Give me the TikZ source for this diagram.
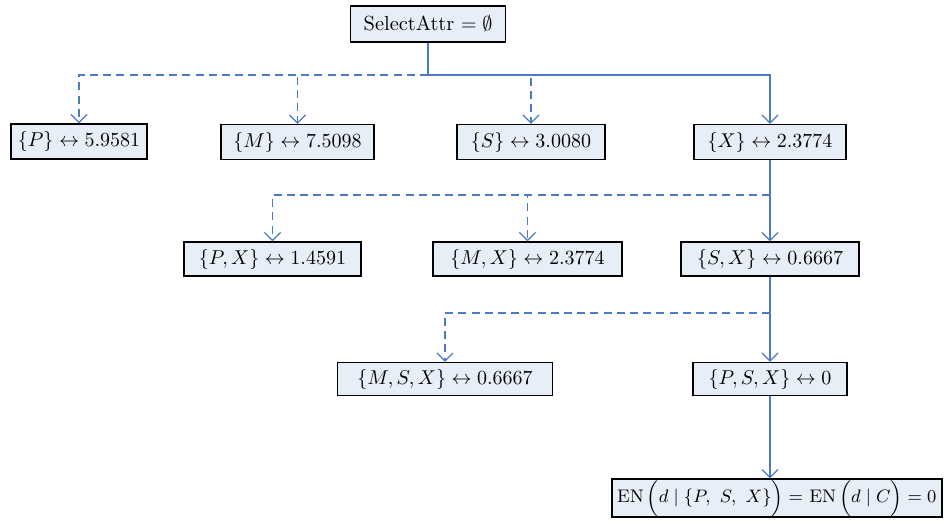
\documentclass[tikz,border=0pt]{standalone}
\usetikzlibrary{arrows.meta}
\definecolor{lineblue}{HTML}{4A7BC4}
\definecolor{boxfill}{HTML}{E8EEF7}
\begin{document}
\begin{tikzpicture}[x=0.5pt,y=-0.5pt,
  box/.style={draw=black,line width=0.75pt,fill=boxfill,inner sep=1pt,font=\fontsize{10.2}{12}\selectfont},
  link/.style={draw=lineblue,line width=0.6pt},
  dlink/.style={link,dash pattern=on 4pt off 2.6pt},
  tip/.style={-{Straight Barb[length=4pt,width=8pt]}}]
\useasboundingbox (0,0) rectangle (944,526);
\node[box,minimum width=77.5pt,minimum height=18pt] (top) at (428,24) {SelectAttr $=\emptyset$};
\node[box,minimum width=68pt,minimum height=17.5pt] (p) at (79,141.5) {$\{P\}\leftrightarrow 5.9581$};
\node[box,minimum width=76.5pt,minimum height=17.5pt] (m) at (297.5,142) {$\{M\}\leftrightarrow 7.5098$};
\node[box,minimum width=74pt,minimum height=17.5pt] (s) at (531,142) {$\{S\}\leftrightarrow 3.0080$};
\node[box,minimum width=76pt,minimum height=17.5pt] (x) at (770,142) {$\{X\}\leftrightarrow 2.3774$};
\node[box,minimum width=88.5pt,minimum height=17pt] (px) at (272.5,259) {$\{P,X\}\leftrightarrow 1.4591$};
\node[box,minimum width=94.5pt,minimum height=17pt] (mx) at (527.5,259) {$\{M,X\}\leftrightarrow 2.3774$};
\node[box,minimum width=89pt,minimum height=17pt] (sx) at (770,259) {$\{S,X\}\leftrightarrow 0.6667$};
\node[box,minimum width=107.5pt,minimum height=16.5pt] (msx) at (445,379) {$\{M,S,X\}\leftrightarrow 0.6667$};
\node[box,minimum width=77pt,minimum height=16.5pt] (psx) at (770,379) {$\{P,S,X\}\leftrightarrow 0$};
\node[box,minimum width=165pt,minimum height=18pt,inner sep=0.3pt,anchor=east,font=\fontsize{9.1}{11}\selectfont] (en) at (942.5,498) {EN$\,\Bigl(d\mid\{P,\ S,\ X\}\Bigr)=$ EN$\,\Bigl(d\mid C\Bigr)=0$};
% junctions
\coordinate (j1) at (428,75);
\coordinate (j2) at (770,195);
\coordinate (j3) at (770,313);
% level 1
\draw[link] (top.south) -- (j1);
\draw[dlink,tip] (j1) -| (p.north);
\draw[dlink,tip] (j1) -| (m.north);
\draw[dlink,tip] (j1) -| (s.north);
\draw[link,tip] (j1) -| (x.north);
% level 2
\draw[link] (x.south) -- (j2);
\draw[dlink,tip] (j2) -| (px.north);
\draw[dlink,tip] (j2) -| (mx.north);
\draw[link,tip] (j2) -- (sx.north);
% level 3
\draw[link] (sx.south) -- (j3);
\draw[dlink,tip] (j3) -| (msx.north);
\draw[link,tip] (j3) -- (psx.north);
% level 4
\draw[link,tip] (psx.south) -- (psx.south |- en.north);
\end{tikzpicture}
\end{document}
